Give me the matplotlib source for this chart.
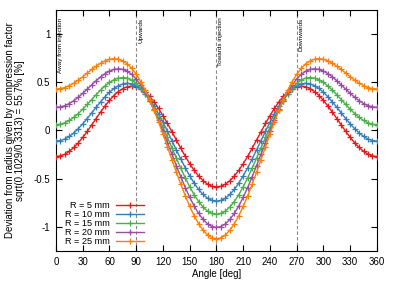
import numpy as np
import matplotlib
matplotlib.use("Agg")
import matplotlib.pyplot as plt

plt.rcParams['font.family'] = ['Liberation Sans', 'DejaVu Sans']

angle = list(range(0, 365, 5))

r5 = [-0.270, -0.264, -0.246, -0.216, -0.176, -0.128, -0.071, -0.009, 0.057, 0.124,
      0.191, 0.254, 0.312, 0.363, 0.404, 0.435, 0.454, 0.460, 0.453, 0.433,
      0.399, 0.353, 0.296, 0.229, 0.154, 0.073, -0.013, -0.099, -0.185, -0.268,
      -0.345, -0.414, -0.473, -0.522, -0.557, -0.579, -0.586,
      -0.579, -0.557, -0.522, -0.473, -0.414, -0.345, -0.268, -0.185, -0.099,
      -0.013, 0.073, 0.154, 0.229, 0.296, 0.353, 0.399, 0.433, 0.453, 0.460,
      0.454, 0.435, 0.404, 0.363, 0.312, 0.254, 0.191, 0.124, 0.057, -0.009,
      -0.071, -0.128, -0.176, -0.216, -0.246, -0.264, -0.270]

r10 = [-0.110, -0.105, -0.088, -0.061, -0.025, 0.019, 0.069, 0.124, 0.182, 0.241,
       0.297, 0.350, 0.397, 0.436, 0.465, 0.484, 0.490, 0.483, 0.462, 0.428,
       0.381, 0.322, 0.252, 0.172, 0.085, -0.008, -0.104, -0.201, -0.296, -0.387,
       -0.471, -0.547, -0.612, -0.664, -0.703, -0.726, -0.734,
       -0.726, -0.703, -0.664, -0.612, -0.547, -0.471, -0.387, -0.296, -0.201,
       -0.104, -0.008, 0.085, 0.172, 0.252, 0.322, 0.381, 0.428, 0.462, 0.483,
       0.490, 0.484, 0.465, 0.436, 0.397, 0.350, 0.297, 0.241, 0.182, 0.124,
       0.069, 0.019, -0.025, -0.061, -0.088, -0.105, -0.110]

r15 = [0.060, 0.065, 0.080, 0.104, 0.137, 0.176, 0.221, 0.270, 0.321, 0.371,
       0.419, 0.462, 0.498, 0.526, 0.543, 0.549, 0.543, 0.523, 0.489, 0.442,
       0.381, 0.309, 0.225, 0.133, 0.033, -0.072, -0.179, -0.287, -0.392, -0.492,
       -0.584, -0.667, -0.737, -0.794, -0.836, -0.861, -0.870,
       -0.861, -0.836, -0.794, -0.737, -0.667, -0.584, -0.492, -0.392, -0.287,
       -0.179, -0.072, 0.033, 0.133, 0.225, 0.309, 0.381, 0.442, 0.489, 0.523,
       0.543, 0.549, 0.543, 0.526, 0.498, 0.462, 0.419, 0.371, 0.321, 0.270,
       0.221, 0.176, 0.137, 0.104, 0.080, 0.065, 0.060]

r20 = [0.240, 0.245, 0.258, 0.280, 0.310, 0.345, 0.386, 0.429, 0.473, 0.516,
       0.556, 0.590, 0.616, 0.634, 0.640, 0.634, 0.615, 0.581, 0.534, 0.473,
       0.398, 0.311, 0.214, 0.107, -0.007, -0.125, -0.245, -0.365, -0.481, -0.592,
       -0.693, -0.784, -0.861, -0.923, -0.969, -0.997, -1.006,
       -0.997, -0.969, -0.923, -0.861, -0.784, -0.693, -0.592, -0.481, -0.365,
       -0.245, -0.125, -0.007, 0.107, 0.214, 0.311, 0.398, 0.473, 0.534, 0.581,
       0.615, 0.634, 0.640, 0.634, 0.616, 0.590, 0.556, 0.516, 0.473, 0.429,
       0.386, 0.345, 0.310, 0.280, 0.258, 0.245, 0.240]

r25 = [0.430, 0.434, 0.446, 0.466, 0.492, 0.523, 0.558, 0.596, 0.633, 0.667,
       0.698, 0.723, 0.739, 0.745, 0.740, 0.722, 0.690, 0.644, 0.583, 0.508,
       0.420, 0.320, 0.209, 0.089, -0.038, -0.169, -0.301, -0.431, -0.558, -0.678,
       -0.787, -0.885, -0.968, -1.035, -1.084, -1.114, -1.124,
       -1.114, -1.084, -1.035, -0.968, -0.885, -0.787, -0.678, -0.558, -0.431,
       -0.301, -0.169, -0.038, 0.089, 0.209, 0.320, 0.420, 0.508, 0.583, 0.644,
       0.690, 0.722, 0.740, 0.745, 0.739, 0.723, 0.698, 0.667, 0.633, 0.596,
       0.558, 0.523, 0.492, 0.466, 0.446, 0.434, 0.430]

series = [r5, r10, r15, r20, r25]
labels = ['R = 5 mm', 'R = 10 mm', 'R = 15 mm', 'R = 20 mm', 'R = 25 mm']
colors = ['#e41a1c', '#377eb8', '#4daf4a', '#984ea3', '#ff7f00']

markers_at = [90, 180, 270]
marker_text = ['Upwards', 'Towards injection', 'Downwards']

fig = plt.figure(figsize=(3.95, 2.82), dpi=100)
ax = fig.add_axes([0.1418, 0.110, 0.8124, 0.8545])

for xv in markers_at:
    ax.axvline(xv, color='#888888', lw=0.8, ls=(0, (3, 2)), zorder=1)

for y, lab, c in zip(series, labels, colors):
    ax.plot(angle, y, color=c, lw=1, marker='+', ms=4.5, mew=0.9, label=lab, zorder=3)

ax.text(2, 1.17, 'Away from injection', rotation=90, ha='left', va='top', fontsize=4.6)
for xv, t in zip(markers_at, marker_text):
    ax.text(xv + 2, 1.17, t, rotation=90, ha='left', va='top', fontsize=4.6)

ax.set_xlim(0, 360)
ax.set_ylim(-1.25, 1.25)
ax.set_xticks(range(0, 361, 30))
ax.set_yticks([-1, -0.5, 0, 0.5, 1])
ax.set_yticklabels(['-1', '-0.5', '0', '0.5', '1'])
ax.tick_params(direction='in', length=4, width=0.8, top=True, right=True, labelsize=7, pad=4)
for s in ax.spines.values():
    s.set_linewidth(0.8)

ax.set_xlabel('Angle [deg]', fontsize=7, labelpad=2)
ax.set_ylabel('Deviation from radius given by compression factor\nsqrt(0.1029/0.3313) = 55.7% [%]',
              fontsize=7, labelpad=6, linespacing=1.0)

ax.legend(loc='lower left', bbox_to_anchor=(0.014, 0.0), frameon=False, fontsize=6.6,
          markerfirst=False, handlelength=3.0, labelspacing=0.0, borderaxespad=0.2,
          borderpad=0.3, handletextpad=0.7)

fig.savefig('out.png', dpi=100)
